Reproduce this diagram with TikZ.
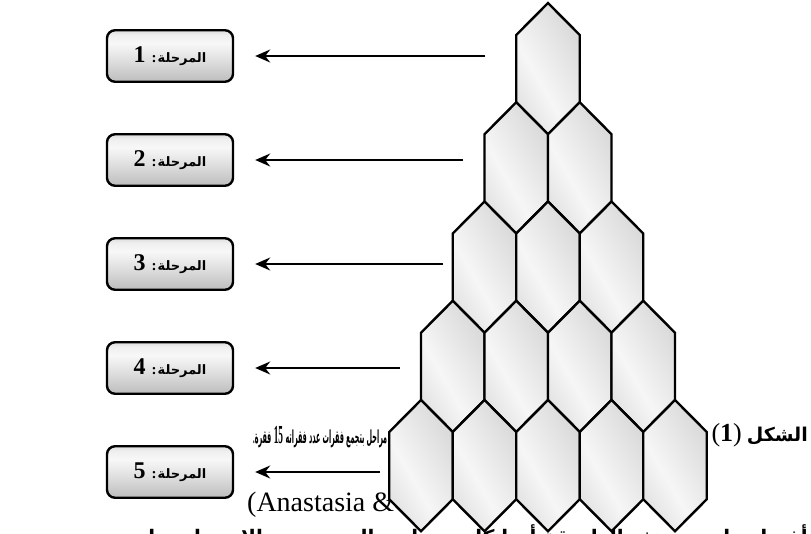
\documentclass[tikz,border=0pt]{standalone}
\usepackage{graphicx}
\usepackage{fontspec}
\setmainfont{Liberation Serif}
\newfontfamily\arabicfont[Script=Arabic]{DejaVu Sans}
\TeXXeTstate=1
\usetikzlibrary{arrows.meta}

% vertical gloss for the stage labels (bottom -> top)
\pgfdeclareverticalshading{stageshade}{100bp}{color(0bp)=(gray!52); color(25bp)=(gray!52); color(45bp)=(gray!26); color(62bp)=(gray!6); color(70bp)=(gray!12); color(75bp)=(gray!26); color(100bp)=(gray!26)}
% soft sheen across each cell
\pgfdeclarehorizontalshading{cellshade}{100bp}{color(0bp)=(gray!22); color(25bp)=(gray!22); color(42bp)=(gray!7); color(75bp)=(gray!30); color(100bp)=(gray!30)}

\newcommand{\ar}[1]{{\arabicfont\bfseries\beginR #1\endR}}

\tikzset{
  stagebox/.style={draw=black, line width=2.4pt, rounded corners=8pt, shade, shading=stageshade,
                   minimum width=126pt, minimum height=51.5pt, inner sep=0pt},
  cell/.style={draw=black, line width=2.4pt, line join=miter, shade, shading=cellshade, shading angle=30},
  pointer/.style={line width=1.7pt, shorten >=21pt, -{Stealth[length=15pt,width=13pt,inset=5pt]}},
}

\begin{document}
\begin{tikzpicture}[x=1pt,y=-1pt]
\fill[white] (0,0) rectangle (811,533);
\useasboundingbox (0,0) rectangle (811,533);

% running text of the page behind the figure
\node[anchor=base east, inner sep=0pt] (figcap) at (808,441)
  {{\fontsize{26}{26}\selectfont(\textbf{1})}\hspace{5pt}{\fontsize{19}{22}\selectfont\ar{الشكل}}};
\node[anchor=base west, inner sep=0pt] (steps) at (253,443)
  {\resizebox{134pt}{\height}{{\fontsize{18}{20}\selectfont\textbf{.}\ar{فقرة}}\hspace{7pt}{\fontsize{26}{26}\selectfont\textbf{15}}\hspace{7pt}{\fontsize{18}{20}\selectfont\ar{مراحل بتجمع فقرات عدد فقراته}}}};
\node[anchor=base west, inner sep=0pt] (cite) at (247,511)
  {\fontsize{28}{28}\selectfont(Anastasia \&};
\node[anchor=base east, inner sep=0pt] (nextline) at (808,544)
  {\fontsize{20}{22}\selectfont\ar{أفضل ما يميز هذه الطريقة أنها كانت تهاجم المرض من الإستراتيجيات}};

% stage labels
\foreach \i/\y in {1/56,2/160,3/264,4/368,5/472}{
  \node[stagebox] (s\i) at (170,\y)
    {{\fontsize{24}{24}\selectfont\textbf{\i}}\hspace{6pt}{\fontsize{15}{15}\selectfont\textbf{:}}\hspace{1pt}{\fontsize{13}{15}\selectfont\ar{المرحلة}}};
}

% arrow tails next to the pyramid
\coordinate (t1) at (485,56);
\coordinate (t2) at (463,160);
\coordinate (t3) at (443,264);
\coordinate (t4) at (400,368);
\coordinate (t5) at (380,472);
\foreach \i in {1,...,5}{
  \draw[pointer] (t\i) -- (s\i.east);
}

% pyramid of 15 hexagonal cells, one more per row
\foreach \r in {1,...,5}{
  \pgfmathsetmacro\ytop{3+(\r-1)*99.25}
  \foreach \k in {1,...,\r}{
    \pgfmathsetmacro\xc{548+(2*\k-\r-1)*31.75}
    \path[cell] (\xc,\ytop) -- ++(31.75,32) -- ++(0,67.25) -- ++(-31.75,32)
      -- ++(-31.75,-32) -- ++(0,-67.25) -- cycle;
  }
}
\end{tikzpicture}
\end{document}
